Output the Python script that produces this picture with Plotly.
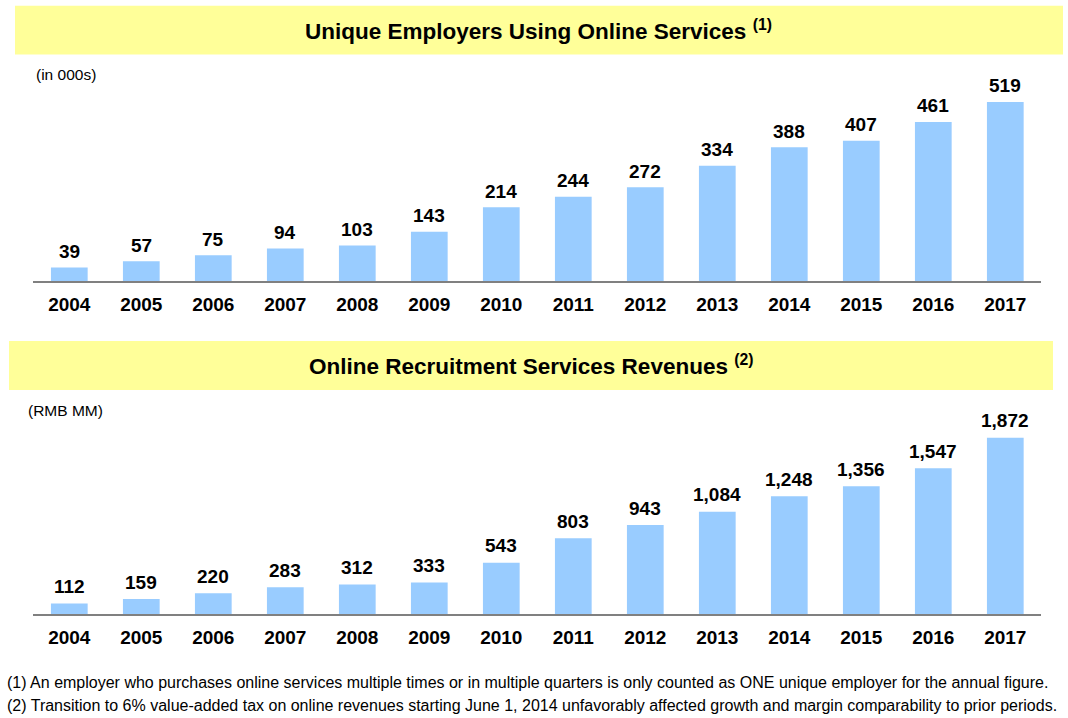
import plotly.graph_objects as go

W, H = 1068, 718

years = ["2004", "2005", "2006", "2007", "2008", "2009", "2010",
         "2011", "2012", "2013", "2014", "2015", "2016", "2017"]
employers = [39, 57, 75, 94, 103, 143, 214, 244, 272, 334, 388, 407, 461, 519]
revenues = [112, 159, 220, 283, 312, 333, 543, 803, 943, 1084, 1248, 1356, 1547, 1872]

title_top = "Unique Employers Using Online Services <sup>(1)</sup>"
title_bottom = "Online Recruitment Services Revenues <sup>(2)</sup>"
unit_top = "(in 000s)"
unit_bottom = "(RMB MM)"
footnotes = [
    "(1) An employer who purchases online services multiple times or in multiple quarters is only counted as ONE unique employer for the annual figure.",
    "(2) Transition to 6% value-added tax on online revenues starting June 1, 2014 unfavorably affected growth and margin comparability to prior periods.",
]

BAR = "#99CCFF"
BANNER = "#FFFF99"
FONT = "Arial, Liberation Sans, sans-serif"


def px(x):
    return x / W


def py(y):
    return 1 - y / H


fig = go.Figure()
fig.add_trace(go.Bar(x=years, y=employers, marker=dict(color=BAR, line=dict(width=0)),
                     width=0.51, xaxis="x", yaxis="y", hoverinfo="skip"))
fig.add_trace(go.Bar(x=years, y=revenues, marker=dict(color=BAR, line=dict(width=0)),
                     width=0.51, xaxis="x2", yaxis="y2", hoverinfo="skip"))

xdom = [px(33.3), px(1041.3)]
axis_common = dict(type="category", showgrid=False, zeroline=False, showline=True,
                   linecolor="#808080", linewidth=2, ticks="", fixedrange=True,
                   ticklabelstandoff=5,
                   tickfont=dict(family=FONT, size=19, color="black", weight="bold"))
yaxis_common = dict(visible=False, showgrid=False, zeroline=False, fixedrange=True)

fig.update_layout(
    width=W, height=H, margin=dict(l=0, r=0, t=0, b=0),
    paper_bgcolor="white", plot_bgcolor="white", showlegend=False, bargap=0.49,
    xaxis=dict(domain=xdom, anchor="y", range=[-0.5, 13.5], **axis_common),
    yaxis=dict(domain=[py(281), py(102)], range=[0, max(employers)], anchor="x", **yaxis_common),
    xaxis2=dict(domain=xdom, anchor="y2", range=[-0.5, 13.5], **axis_common),
    yaxis2=dict(domain=[py(614), py(437.5)], range=[0, max(revenues)], anchor="x2", **yaxis_common),
)

# Value labels (category index positions)
for i, v in enumerate(employers):
    fig.add_annotation(x=i, y=v, xref="x", yref="y", text=f"{v:,}", showarrow=False,
                       yanchor="middle", yshift=16,
                       font=dict(family=FONT, size=19, color="black", weight="bold"))
for i, v in enumerate(revenues):
    fig.add_annotation(x=i, y=v, xref="x2", yref="y2", text=f"{v:,}", showarrow=False,
                       yanchor="middle", yshift=17,
                       font=dict(family=FONT, size=19, color="black", weight="bold"))

# Banners
fig.add_shape(type="rect", xref="paper", yref="paper", x0=px(15), x1=px(1063),
              y0=py(54.5), y1=py(5.7), fillcolor=BANNER, line=dict(width=0), layer="below")
fig.add_shape(type="rect", xref="paper", yref="paper", x0=px(9), x1=px(1053),
              y0=py(390), y1=py(341), fillcolor=BANNER, line=dict(width=0), layer="below")
fig.add_annotation(x=px(538), y=py(30), xref="paper", yref="paper", text=title_top,
                   showarrow=False, xanchor="center", yanchor="middle",
                   font=dict(family=FONT, size=22.5, color="black", weight="bold"))
fig.add_annotation(x=px(531), y=py(365), xref="paper", yref="paper", text=title_bottom,
                   showarrow=False, xanchor="center", yanchor="middle",
                   font=dict(family=FONT, size=22.5, color="black", weight="bold"))

# Units
fig.add_annotation(x=px(34), y=py(74), xref="paper", yref="paper", text=unit_top,
                   showarrow=False, xanchor="left", yanchor="middle",
                   font=dict(family=FONT, size=15.5, color="black"))
fig.add_annotation(x=px(26), y=py(410), xref="paper", yref="paper", text=unit_bottom,
                   showarrow=False, xanchor="left", yanchor="middle",
                   font=dict(family=FONT, size=15.5, color="black"))

# Footnotes
for i, t in enumerate(footnotes):
    fig.add_annotation(x=px(5), y=py(682 + 23 * i), xref="paper", yref="paper", text=t,
                       showarrow=False, xanchor="left", yanchor="middle",
                       font=dict(family=FONT, size=16, color="black"))

fig.write_html("out.html")
